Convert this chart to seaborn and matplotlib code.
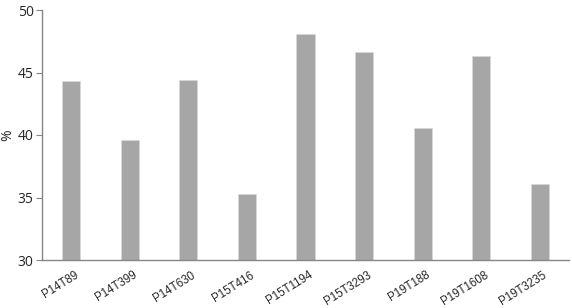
import matplotlib
matplotlib.use("Agg")
import matplotlib.pyplot as plt
import seaborn as sns
import pandas as pd

categories = ["P14T89", "P14T399", "P14T630", "P15T416", "P15T1194",
              "P15T3293", "P19T188", "P19T1608", "P19T3235"]
values = [44.3, 39.6, 44.4, 35.25, 48.05, 46.65, 40.6, 46.35, 36.05]
y_ticks = [30, 35, 40, 45, 50]

sns.set_theme(style="white")
plt.rcParams['font.family'] = ['Open Sans', 'DejaVu Sans']

df = pd.DataFrame({"cat": categories, "val": values})

fig = plt.figure(figsize=(5.72, 3.08), dpi=100)
ax = fig.add_axes([42/572, 48/308, 527/572, 250/308])
sns.barplot(data=df, x="cat", y="val", color="#a6a6a6", width=0.31,
            saturation=1, ax=ax, edgecolor="#d9d9d9", linewidth=0.5)
ax.set_ylim(30, 50)
ax.set_yticks(y_ticks)
ax.set_xlim(-0.5, len(categories) - 0.5)
ax.set_xlabel("")
ax.set_ylabel("%", fontsize=10)
ax.yaxis.set_label_coords(-27/527, 0.5)
for s in ["top", "right"]:
    ax.spines[s].set_visible(False)
for s in ["left", "bottom"]:
    ax.spines[s].set_color("#868686")
    ax.spines[s].set_linewidth(1.0)
ax.tick_params(axis="y", which="both", left=True, length=4, width=0.8,
               color="#868686", labelsize=10, pad=2)
ax.tick_params(axis="x", bottom=False, length=0, pad=6.5)
for lab in ax.get_xticklabels():
    lab.set_rotation(32)
    lab.set_ha("right")
    lab.set_rotation_mode("anchor")
    lab.set_fontfamily("Liberation Sans")
    lab.set_fontsize(8.3)
import matplotlib.transforms as mtrans
offset = mtrans.ScaledTranslation(3/100, 0, fig.dpi_scale_trans)
for lab in ax.get_xticklabels():
    lab.set_transform(lab.get_transform() + offset)
fig.savefig("out.png", dpi=100, facecolor="white")
